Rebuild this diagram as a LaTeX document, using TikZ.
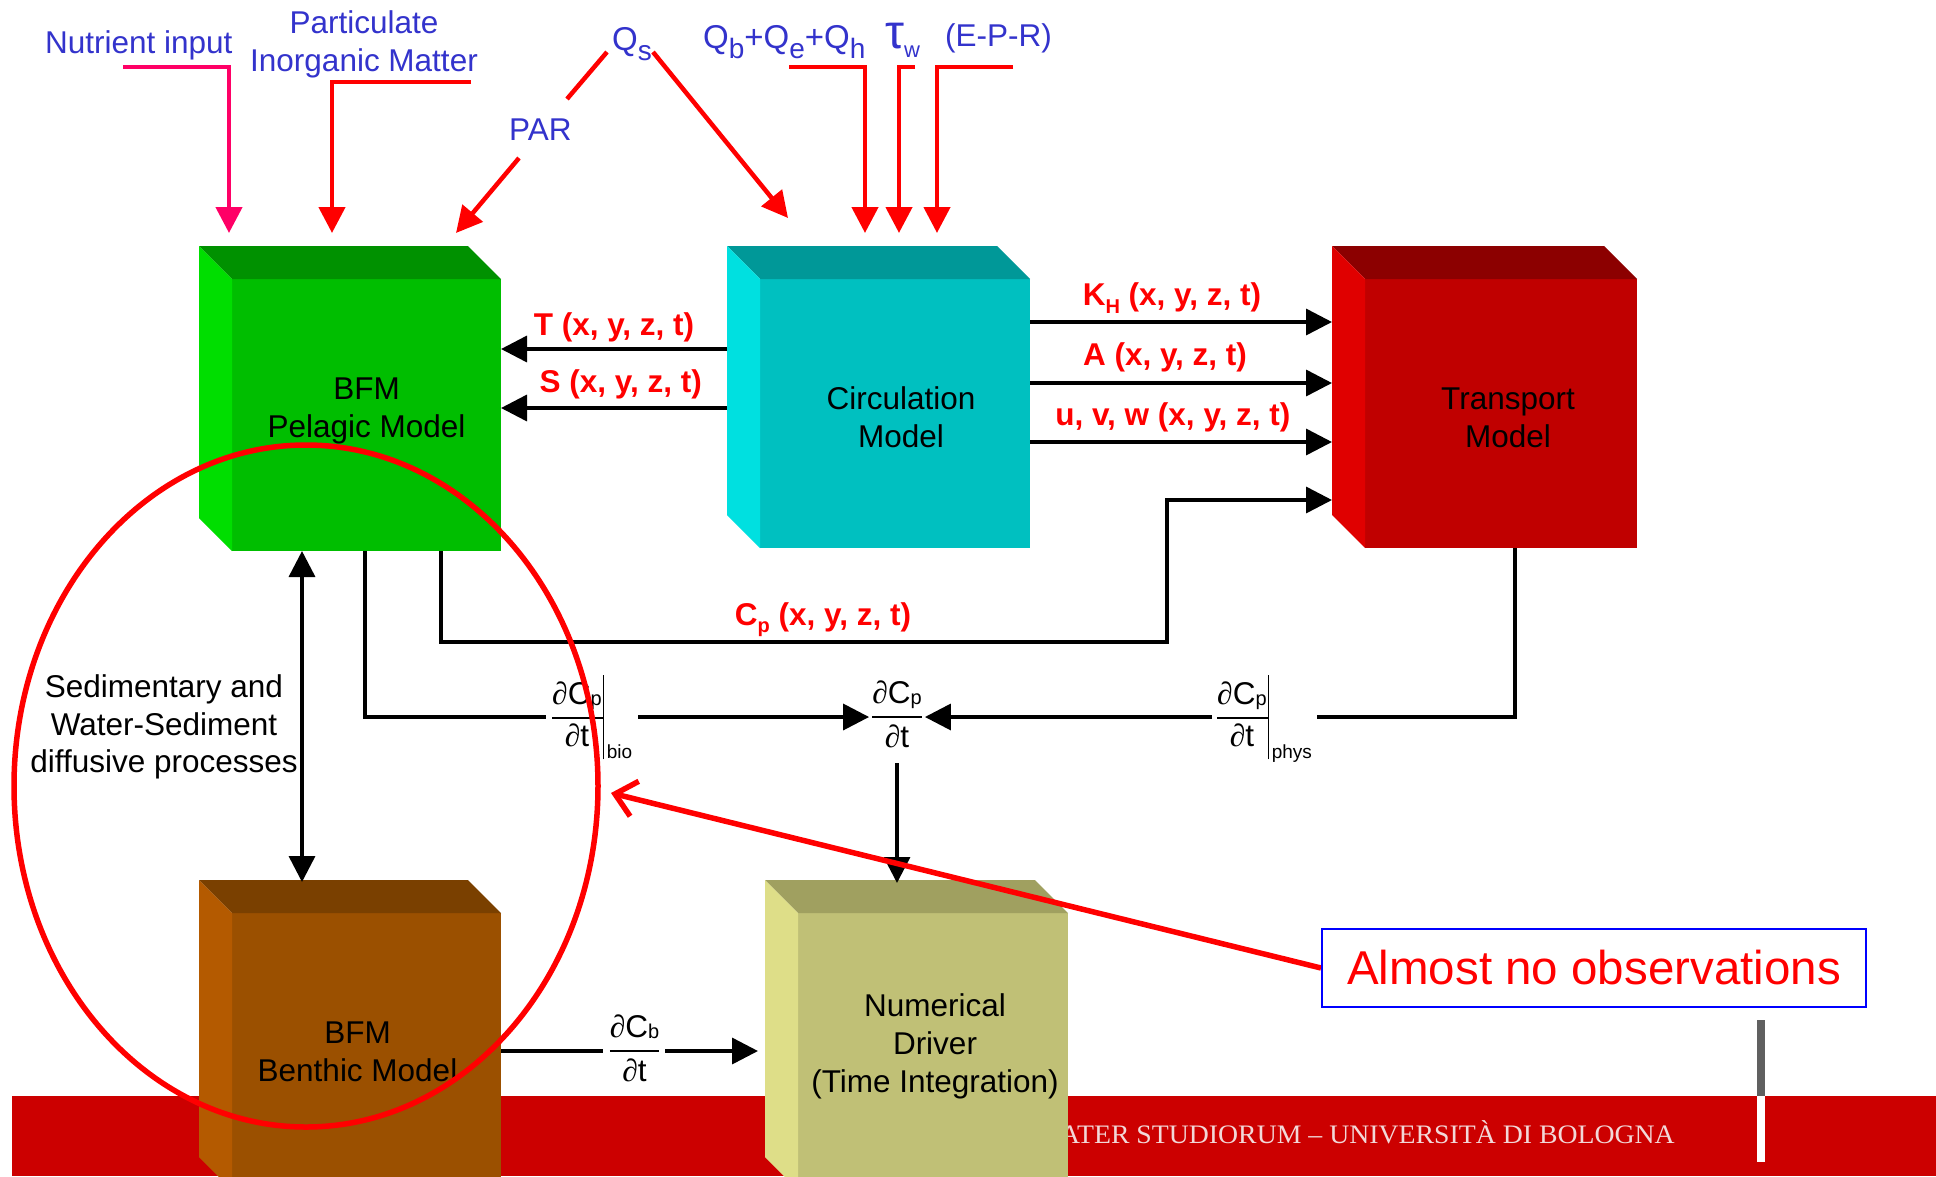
\documentclass[tikz,border=0pt]{standalone}
\usepackage{fontspec}
\setmainfont{Liberation Sans}
\newfontfamily\footserif{Liberation Serif}
\usetikzlibrary{arrows.meta}

\definecolor{lblblue}{RGB}{51,51,204}
\definecolor{feedpink}{RGB}{255,0,102}
\definecolor{pelF}{RGB}{0,190,0}\definecolor{pelT}{RGB}{0,145,0}\definecolor{pelS}{RGB}{0,222,0}
\definecolor{cirF}{RGB}{0,192,192}\definecolor{cirT}{RGB}{0,152,152}\definecolor{cirS}{RGB}{0,224,224}
\definecolor{traF}{RGB}{192,0,0}\definecolor{traT}{RGB}{140,0,0}\definecolor{traS}{RGB}{224,0,0}
\definecolor{benF}{RGB}{155,80,0}\definecolor{benT}{RGB}{122,64,0}\definecolor{benS}{RGB}{180,90,0}
\definecolor{numF}{RGB}{192,192,118}\definecolor{numT}{RGB}{160,160,96}\definecolor{numS}{RGB}{222,222,136}
\definecolor{barred}{RGB}{204,0,0}
\definecolor{foottxt}{RGB}{242,216,216}
\definecolor{stripgray}{RGB}{96,96,96}

% lowered, resized subscript: size, drop, text
\newcommand\sub[3]{\raisebox{-#2pt}{\fontsize{#1}{#1}\selectfont #3}}
% slanted partial sign
\newcommand\pa{{\footserif\itshape ∂}}
% partial derivative as a stacked fraction
\newcommand\pd[2]{\begin{tabular}{@{}c@{}}#1\\\hline #2\end{tabular}}
% partial derivative with an evaluation bar
\newcommand\pdev[2]{\begin{tabular}{@{}c@{\hspace{2pt}}|@{}}#1\\\cline{1-1}#2\end{tabular}}
\setlength\arrayrulewidth{1.6pt}
\renewcommand\arraystretch{1.12}

% a shaded block: front face node plus top and left faces
\newcommand\cube[8]{%
  \node[face, fill=#6, minimum width={#4-#2}, minimum height={#5-#3}] (#1) at ({(#2+#4)/2},{(#3+#5)/2}) {};
  \fill[#7] (#1.north west) -- ++(-33,-33) -- ([shift={(-33,-33)}]#1.north east) -- (#1.north east) -- cycle;
  \fill[#8] (#1.north west) -- ++(-33,-33) -- ([shift={(-33,-33)}]#1.south west) -- (#1.south west) -- cycle;}

\tikzset{
  face/.style={rectangle, inner sep=0pt, outer sep=0pt, draw=none},
  boxtxt/.style={align=center, inner sep=0pt, text=black, font=\fontsize{31.5}{37.8}\selectfont},
  bluelab/.style={inner sep=0pt, text=lblblue, font=\fontsize{31.5}{37.8}\selectfont},
  redlab/.style={inner sep=0pt, text=red, font=\fontsize{31.5}{37.8}\selectfont\bfseries},
  frac/.style={inner xsep=0pt, inner ysep=0pt, text=black, font=\fontsize{31.5}{37.8}\selectfont},
  evalsub/.style={inner sep=0pt, text=black, font=\fontsize{19}{20}\selectfont},
  tip/.style={-{Triangle[width=26pt,length=26pt]}},
  redln/.style={draw=red, line width=4.5pt},
  redarr/.style={redln, tip},
  pinkarr/.style={draw=feedpink, line width=4.5pt, tip},
  blk/.style={draw=black, line width=3.5pt},
  blkarr/.style={blk, tip},
  blkdbl/.style={blk, {Triangle[width=26pt,length=26pt]}-{Triangle[width=26pt,length=26pt]}},
  obsarr/.style={draw=red, line width=5.5pt, -{Straight Barb[length=20pt,width=36pt]}},
  obsbox/.style={draw=blue, line width=2pt, fill=white, text=red, inner sep=0pt,
    minimum width=544pt, minimum height=78pt, font=\fontsize{47.5}{56}\selectfont},
}

\begin{document}
\begin{tikzpicture}[x=1pt,y=-1pt]
\useasboundingbox (0,0) rectangle (1936,1176);
\fill[white] (0,0) rectangle (1936,1176);

% footer band
\fill[barred] (12,1096) rectangle (1936,1176);
\node[anchor=base east, inner sep=0pt, text=foottxt, font=\footserif\fontsize{26.7}{30}\selectfont] (foot) at (1675,1143) {\scalebox{1.04}[1]{ATER STUDIORUM – UNIVERSITÀ DI BOLOGNA}};
\fill[stripgray] (1757,1020) rectangle (1765,1096);
\fill[white] (1757,1096) rectangle (1765,1162);

% model blocks
\cube{pel}{232}{279}{501}{551}{pelF}{pelT}{pelS}
\cube{circ}{760}{279}{1030}{548}{cirF}{cirT}{cirS}
\cube{trans}{1365}{279}{1637}{548}{traF}{traT}{traS}
\cube{bent}{232}{913}{501}{1190}{benF}{benT}{benS}
\cube{numd}{798}{913}{1068}{1190}{numF}{numT}{numS}

\node[boxtxt] (pel-t) at ([shift={(0,-4)}]pel.center) {BFM\\Pelagic Model};
\node[boxtxt] (circ-t) at ([shift={(6,4)}]circ.center) {Circulation\\Model};
\node[boxtxt] (trans-t) at ([shift={(7,4)}]trans.center) {Transport\\Model};
\node[boxtxt] (bent-t) at ([shift={(-9,0)}]bent.center) {BFM\\Benthic Model};
\node[boxtxt] (numd-t) at ([shift={(2,-5)}]numd.center) {Numerical\\Driver\\(Time Integration)};

% forcing labels
\node[bluelab, anchor=base west] (nut) at (45,53) {Nutrient input};
\node[bluelab, align=center] (pim) at (364,44.7) {Particulate\\Inorganic Matter};
\node[bluelab, anchor=base west, font=\fontsize{33}{38}\selectfont] (qs) at (612,50) {Q\sub{28}{10}{s}};
\node[bluelab, anchor=base west] (par) at (509,140) {PAR};
\node[bluelab, anchor=base west, font=\fontsize{33}{38}\selectfont] (qbeh) at (703,48) {Q\sub{28}{10}{b}+Q\sub{28}{10}{e}+Q\sub{28}{10}{h}};
\node[bluelab, anchor=base west, font=\fontsize{48}{50}\selectfont] (tau) at (885,48) {τ\sub{22}{9}{w}};
\node[bluelab, anchor=base west] (epr) at (945,46.5) {(E-P-R)};

% forcing arrows
\draw[pinkarr] ([shift={(78,14)}]nut.base west) -| ([shift={(-3,-46)}]pel.north west);
\draw[redarr] ([shift={(107,37.3)}]pim.center) -| ([shift={(100,-46)}]pel.north west);
\draw[redln] ([shift={(-5,2)}]qs.base west) -- ([shift={(58,-41)}]par.base west);
\draw[redarr] ([shift={(10,18)}]par.base west) -- ([shift={(224,-46)}]pel.north west);
\draw[redarr] ([shift={(41,2)}]qs.base west) -- ([shift={(28,-61)}]circ.north west);
\draw[redarr] ([shift={(86,19)}]qbeh.base west) -| ([shift={(105,-46)}]circ.north west);
\draw[redarr] ([shift={(30,19)}]tau.base west) -| ([shift={(139,-46)}]circ.north west);
\draw[redarr] ([shift={(68,20.5)}]epr.base west) -| ([shift={(177,-46)}]circ.north west);

% circulation to pelagic
\draw[blkarr] ([shift={(-33,70)}]circ.north west) -- ([shift={(0,70)}]pel.north east)
  node[redlab, pos=0.5, anchor=base, yshift=14pt] (tlab) {T (x, y, z, t)};
\draw[blkarr] ([shift={(-33,129)}]circ.north west) -- ([shift={(0,129)}]pel.north east)
  node[redlab, pos=0.47, anchor=base, yshift=16pt] (slab) {S (x, y, z, t)};

% circulation to transport
\draw[blkarr] ([shift={(0,43)}]circ.north east) -- ([shift={(-33,43)}]trans.north west)
  node[redlab, pos=0.47, anchor=base, yshift=17pt] (khlab) {K\sub{20}{8}{H} (x, y, z, t)};
\draw[blkarr] ([shift={(0,104)}]circ.north east) -- ([shift={(-33,104)}]trans.north west)
  node[redlab, pos=0.447, anchor=base, yshift=18pt] (alab) {A (x, y, z, t)};
\draw[blkarr] ([shift={(0,163)}]circ.north east) -- ([shift={(-33,163)}]trans.north west)
  node[redlab, pos=0.473, anchor=base, yshift=17pt] (uvwlab) {u, v, w (x, y, z, t)};

% pelagic concentrations to transport
\draw[blkarr] ([xshift=209pt]pel.south west) -- ++(0,91) -| ++(726,-142) -- ([shift={(-33,221)}]trans.north west);
\node[redlab, anchor=base] (cplab) at (823,625) {C\sub{20}{7}{p} (x, y, z, t)};

% tendencies
\node[frac, anchor=west] (fbio) at (552,717) {\pdev{\pa C\sub{20}{1}{p}}{\pa t}};
\node[evalsub, anchor=base west] (bio) at ([shift={(2,-1)}]fbio.south east) {bio};
\node[frac, inner xsep=3pt] (fmid) at (897,717) {\pd{\pa C\sub{20}{1}{p}}{\pa t}};
\node[frac, anchor=west] (fphys) at (1217,717) {\pdev{\pa C\sub{20}{1}{p}}{\pa t}};
\node[evalsub, anchor=base west] (phys) at ([shift={(2,-1)}]fphys.south east) {phys};

\draw[blk, shorten >=6pt] ([xshift=133pt]pel.south west) |- (fbio.west);
\draw[blkarr, shorten <=6pt] (bio.east |- fbio.west) -- (fmid.west);
\draw[blk, shorten >=5pt] ([xshift=150pt]trans.south west) |- (phys.east |- fphys.west);
\draw[blkarr, shorten <=5pt] (fphys.west) -- (fmid.east);
\coordinate (numtop) at ([shift={(96,-30)}]numd.north west);
\draw[blkarr, shorten <=3pt] (fmid.south) -- (fmid.south |- numtop);

% pelagic-benthic exchange
\draw[blkdbl] ([xshift=70pt]pel.south west) -- ([shift={(70,-31)}]bent.north west);
\node[boxtxt] (sed) at (164,727) {Sedimentary and\\Water-Sediment\\diffusive processes};

% benthic tendency
\node[frac] (fb) at (634.5,1051) {\pd{\pa C\sub{20}{1}{b}}{\pa t}};
\coordinate (numleft) at ([xshift=-40pt]numd.west);
\draw[blk, shorten >=7pt] (bent.east |- fb.west) -- (fb.west);
\draw[blkarr, shorten <=6pt] (fb.east) -- (numleft |- fb.east);

% highlighted region
\draw[red, line width=5.5pt] (306,786) ellipse [x radius=292, y radius=341];

% annotation
\coordinate (obsTip) at (611,793);
\node[obsbox] (obs) at (1594,968) {Almost no observations};
\draw[obsarr] (obs.west) -- (obsTip);
\node[obsbox] at (obs.center) {Almost no observations};
\end{tikzpicture}
\end{document}
